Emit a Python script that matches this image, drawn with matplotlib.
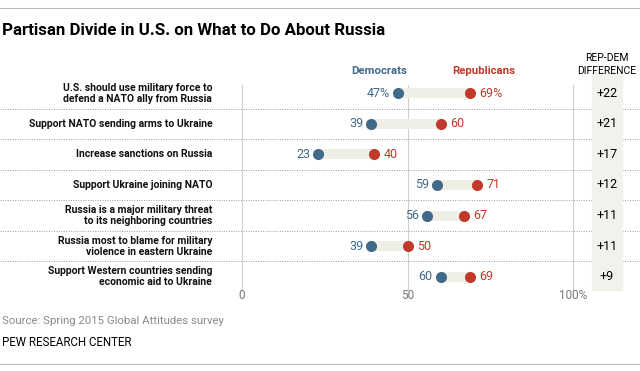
import matplotlib.pyplot as plt

items = [
    "U.S. should use military force to\ndefend a NATO ally from Russia",
    "Support NATO sending arms to Ukraine",
    "Increase sanctions on Russia",
    "Support Ukraine joining NATO",
    "Russia is a major military threat\nto its neighboring countries",
    "Russia most to blame for military\nviolence in eastern Ukraine",
    "Support Western countries sending\neconomic aid to Ukraine",
]
dem = [47, 39, 23, 59, 56, 39, 60]
rep = [69, 60, 40, 71, 67, 50, 69]
xticks = [0, 50, 100]
xtick_labels = ["0", "50", "100%"]

plt.rcParams["font.family"] = ["Roboto", "DejaVu Sans"]

blue = "#41698a"
red = "#c0392b"
band = "#efefe6"

fig = plt.figure(figsize=(6.4, 3.71), dpi=100)
W, H = 640, 371
ax = fig.add_axes([242 / W, 1 - 292 / H, 331 / W, 214 / H])
ax.set_xlim(0, 100)
ax.set_ylim(len(items) - 0.5, -0.5)
ax.axis("off")

# grid lines + tick labels
for v in xticks:
    ax.plot([v, v], [-0.27, 6.45], color="#d0d0d0", lw=0.8, clip_on=False, zorder=0)
for v, lab in zip(xticks, xtick_labels):
    ax.text(v, 6.62, lab, ha="center", va="center", fontsize=8.5, color="#777777")

# dotted row separators
for i in range(len(items) - 1):
    ax.plot([-0.731, 1.205], [i + 0.5, i + 0.5], transform=ax.get_yaxis_transform(),
            color="#999999", lw=0.7, ls=(0, (1, 1.5)), clip_on=False, zorder=0)

# diff column
ax.axvspan(105.7, 114.8, ymin=0.01, ymax=1.03, color="#f2f2ec", clip_on=False, zorder=1)

for i, (d, r) in enumerate(zip(dem, rep)):
    ax.plot([d, r], [i, i], color=band, lw=7.2, solid_capstyle="butt", zorder=2)
    ax.plot(d, i, "o", color=blue, ms=8, mec="none", zorder=3)
    ax.plot(r, i, "o", color=red, ms=8, mec="none", zorder=3)
    sfx = "%" if i == 0 else ""
    ax.text(d - 2.4, i, f"{d}{sfx}", ha="right", va="center", fontsize=9, color=blue)
    ax.text(r + 2.8, i, f"{r}{sfx}", ha="left", va="center", fontsize=9, color=red)
    ax.text(110.3, i, f"+{r - d}", ha="center", va="center", fontsize=9, color="black", zorder=3)
    ax.text(-9, i, items[i], ha="right", va="center", fontsize=7.45, fontweight="bold",
            linespacing=1.1, color="#111111")

ax.text(41.3, -0.73, "Democrats", ha="center", va="center", fontsize=8.2,
        fontweight="bold", color=blue, clip_on=False)
ax.text(73, -0.73, "Republicans", ha="center", va="center", fontsize=8.2,
        fontweight="bold", color=red, clip_on=False)
ax.text(110.3, -0.95, "REP-DEM\nDIFFERENCE", ha="center", va="center", fontsize=7.5,
        linespacing=1.35, color="black")

fig.text(2 / W, 1 - 35 / H, "Partisan Divide in U.S. on What to Do About Russia",
         fontsize=12.2, fontweight="bold", va="baseline", ha="left")
fig.text(2 / W, 1 - 321 / H, "Source: Spring 2015 Global Attitudes survey",
         fontsize=8.2, color="#8a8a8a", va="center", ha="left")
fig.text(2 / W, 1 - 343 / H, "PEW RESEARCH CENTER", fontsize=8.3, color="black",
         va="center", ha="left")

fig.add_artist(plt.Line2D([0, 1], [1 - 8 / H, 1 - 8 / H], color="#bbbbbb", lw=0.8))
fig.add_artist(plt.Line2D([0, 1], [1 - 364 / H, 1 - 364 / H], color="#bbbbbb", lw=0.8))

fig.savefig("out.png", dpi=100)
